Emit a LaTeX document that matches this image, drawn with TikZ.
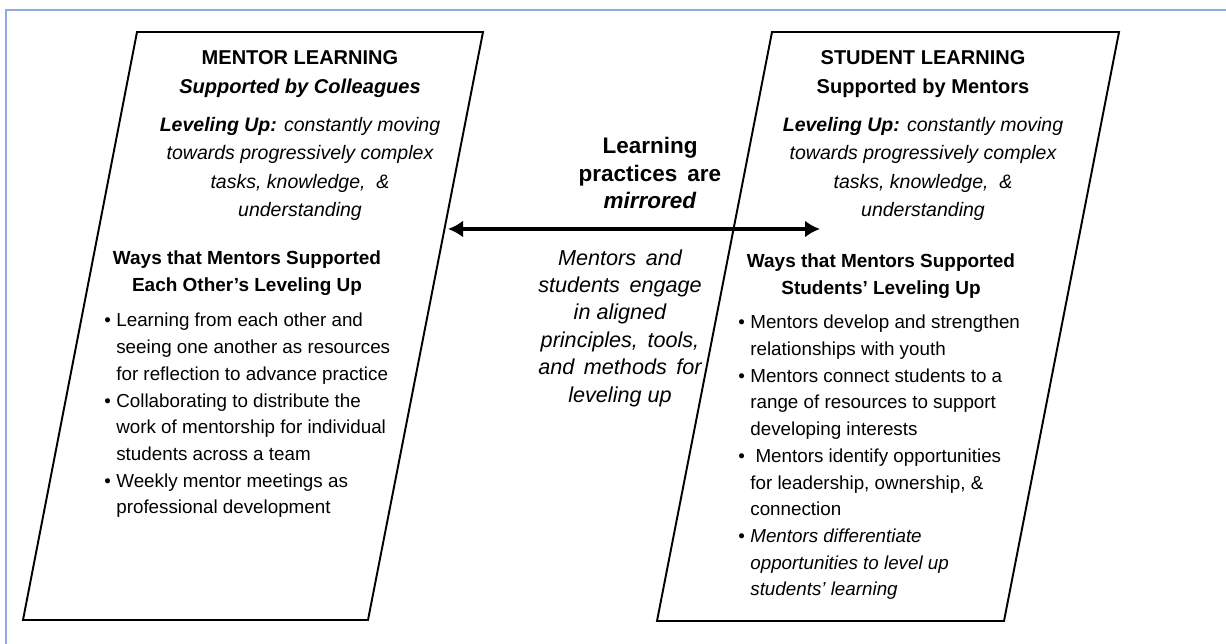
\documentclass[tikz,border=0pt]{standalone}
\usepackage{fontspec}
\setmainfont{Liberation Sans}
\usetikzlibrary{arrows.meta}

\definecolor{frameblue}{RGB}{143,170,220}

% bullet and hanging indent for the lists
\newcommand\bul{\makebox[0.24cm][l]{\textbullet}}
\newcommand\ind{\hspace*{0.24cm}}

\begin{document}
\begin{tikzpicture}[x=0.02cm,y=-0.02cm,
  every path/.style={>={Latex[length=3mm,width=3.4mm]}},
  panel/.style={draw,line width=1.1pt},
  title/.style={font=\fontsize{11.4}{16.5}\selectfont\bfseries,align=center,inner sep=0pt},
  head/.style={font=\fontsize{10.8}{15.5}\selectfont\bfseries,align=center,inner sep=0pt},
  para/.style={font=\fontsize{11.1}{16.3}\selectfont\itshape,align=center,inner sep=0pt},
  mid/.style={align=center,inner sep=0pt},
  items/.style={font=\fontsize{10.7}{15.2}\selectfont,align=left,inner sep=0pt,anchor=west}]
\useasboundingbox (0,0) rectangle (1226,644);

% outer frame
\draw[frameblue,line width=1.2pt] (6,644) -- (6,10) -- (1226,10);

% the two panels
\draw[panel] (137,32) -- (483,32) -- (368,620) -- (23,620) -- cycle;
\draw[panel] (772,32) -- (1119,32) -- (1004,621) -- (657,621) -- cycle;

% mentor side
\node[title] (mtitle) at (300,74.5) {MENTOR LEARNING\\\textit{Supported by Colleagues}};
\node[para]  (mlevel) at (300,169) {\textbf{Leveling Up:} constantly moving\\towards progressively complex\\tasks, knowledge, \ \&\\understanding};
\node[head]  (mhead)  at (247,273) {Ways that Mentors Supported\\Each Other's Leveling Up};
\node[items] (mways)  at (104,415.5) {\bul Learning from each other and\\
  \ind seeing one another as resources\\
  \ind for reflection to advance practice\\
  \bul Collaborating to distribute the\\
  \ind work of mentorship for individual\\
  \ind students across a team\\
  \bul Weekly mentor meetings as\\
  \ind professional development};

% student side
\node[title] (stitle) at (923,74.5) {STUDENT LEARNING\\Supported by Mentors};
\node[para]  (slevel) at (923,169) {\textbf{Leveling Up:} constantly moving\\towards progressively complex\\tasks, knowledge, \ \&\\understanding};
\node[head]  (shead)  at (881,276.5) {Ways that Mentors Supported\\Students' Leveling Up};
\node[items] (sways)  at (738,457.5) {\bul Mentors develop and strengthen\\
  \ind relationships with youth\\
  \bul Mentors connect students to a\\
  \ind range of resources to support\\
  \ind developing interests\\
  \bul\ Mentors identify opportunities\\
  \ind for leadership, ownership, \&\\
  \ind connection\\
  \bul\textit{Mentors differentiate}\\
  \ind\textit{opportunities to level up}\\
  \ind\textit{students' learning}};

% middle
\node[mid,font=\fontsize{12.8}{15.6}\selectfont\bfseries] (mirror) at (650,173) {Learning\\practices \,are\\\textit{mirrored}};
\coordinate (mirrorL) at (448,229);
\coordinate (mirrorR) at (820,229);
\draw[<->,line width=2.2pt] (mirrorL) -- (mirrorR);
\node[mid,font=\fontsize{12.3}{15.6}\selectfont\itshape] (engage) at (620,328) {Mentors \,and\\students \,engage\\in aligned\\principles, \,tools,\\and \,methods \,for\\leveling up};
\end{tikzpicture}
\end{document}
